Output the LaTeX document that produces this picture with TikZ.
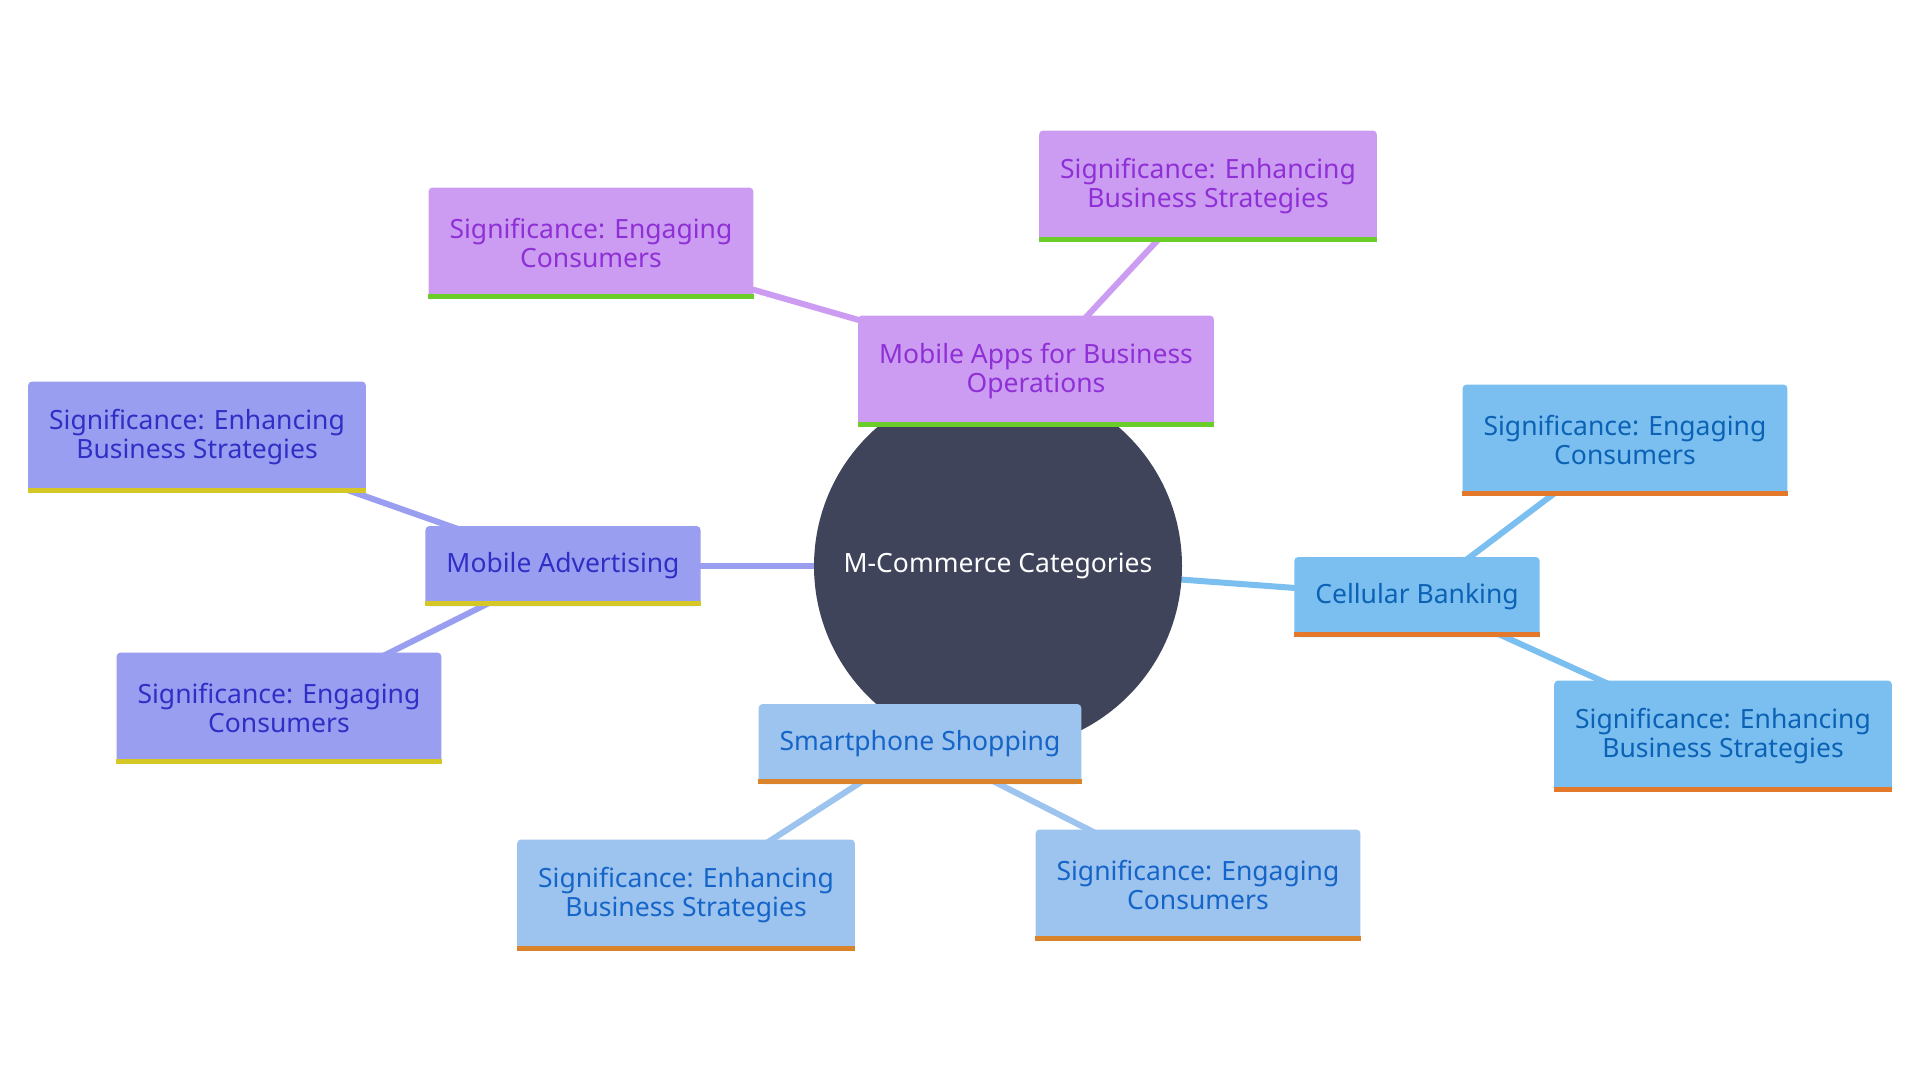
\documentclass[tikz,border=0pt]{standalone}
\usepackage{fontspec}
\setmainfont{Noto Sans}
\usetikzlibrary{backgrounds}

\definecolor{rootfill}{HTML}{3F445B}
\definecolor{appsfill}{HTML}{CC9CF2}
\definecolor{appstext}{HTML}{8F30D6}
\definecolor{appsline}{HTML}{6ACD2A}
\definecolor{advfill}{HTML}{9A9EF1}
\definecolor{advtext}{HTML}{2F2FC5}
\definecolor{advline}{HTML}{D5C826}
\definecolor{bankfill}{HTML}{7BBFF0}
\definecolor{banktext}{HTML}{0B62B5}
\definecolor{bankline}{HTML}{E5792B}
\definecolor{shopfill}{HTML}{9DC3EF}
\definecolor{shoptext}{HTML}{1565C8}
\definecolor{shopline}{HTML}{D9832A}

\begin{document}
\begin{tikzpicture}[x=1pt,y=-1pt,
    every node/.style={font=\fontsize{26.5}{29.5}\selectfont,align=center},
    box/.style={rectangle,rounded corners=4pt,inner xsep=21pt,inner ysep=0pt},
    oneline/.style={box,minimum height=80pt},
    twoline/.style={box,minimum height=111pt},
    apps/.style={fill=appsfill,text=appstext},
    adv/.style={fill=advfill,text=advtext},
    bank/.style={fill=bankfill,text=banktext},
    shop/.style={fill=shopfill,text=shoptext},
    link/.style={line width=6pt}]
    \useasboundingbox (0,0) rectangle (1920,1080);

    % Root
    \node[circle,fill=rootfill,text=white,minimum size=368pt,inner sep=0pt] (root) at (998,566) {M-Commerce Categories};

    % Mobile apps
    \node[twoline,apps] (apps) at (1036,371) {Mobile Apps for Business\\Operations};
    \node[twoline,apps] (appsEng) at (591,243) {Significance: Engaging\\Consumers};
    \node[twoline,apps] (appsEnh) at (1208,186) {Significance: Enhancing\\Business Strategies};

    % Mobile advertising
    \node[oneline,adv] (adv) at (563,566) {Mobile Advertising};
    \node[twoline,adv] (advEnh) at (197,437) {Significance: Enhancing\\Business Strategies};
    \node[twoline,adv] (advEng) at (279,708) {Significance: Engaging\\Consumers};

    % Cellular banking
    \node[oneline,bank] (bank) at (1417,597) {Cellular Banking};
    \node[twoline,bank] (bankEng) at (1625,440) {Significance: Engaging\\Consumers};
    \node[twoline,bank] (bankEnh) at (1723,736) {Significance: Enhancing\\Business Strategies};

    % Smartphone shopping
    \node[oneline,shop] (shop) at (920,744) {Smartphone Shopping};
    \node[twoline,shop] (shopEnh) at (686,895) {Significance: Enhancing\\Business Strategies};
    \node[twoline,shop] (shopEng) at (1198,885) {Significance: Engaging\\Consumers};

    % Bottom bars
    \foreach \n/\c in {apps/appsline,appsEng/appsline,appsEnh/appsline,
        adv/advline,advEnh/advline,advEng/advline,
        bank/bankline,bankEng/bankline,bankEnh/bankline,
        shop/shopline,shopEnh/shopline,shopEng/shopline}
        \draw[\c,line width=5pt] ([yshift=2.5pt]\n.south west) -- ([yshift=2.5pt]\n.south east);

    % Links
    \begin{scope}[on background layer]
        \fill[white] (0,0) rectangle (1920,1080);
        \draw[link,appsfill] (root.center) -- (apps.center);
        \draw[link,appsfill] (apps.center) -- (appsEng.center);
        \draw[link,appsfill] (apps.center) -- (appsEnh.center);
        \draw[link,advfill] (root.center) -- (adv.center);
        \draw[link,advfill] (adv.center) -- (advEnh.center);
        \draw[link,advfill] (adv.center) -- (advEng.center);
        \draw[link,bankfill] (root.center) -- (bank.center);
        \draw[link,bankfill] (bank.center) -- (bankEng.center);
        \draw[link,bankfill] (bank.center) -- (bankEnh.center);
        \draw[link,shopfill] (root.center) -- (shop.center);
        \draw[link,shopfill] (shop.center) -- (shopEnh.center);
        \draw[link,shopfill] (shop.center) -- (shopEng.center);
    \end{scope}
\end{tikzpicture}
\end{document}
